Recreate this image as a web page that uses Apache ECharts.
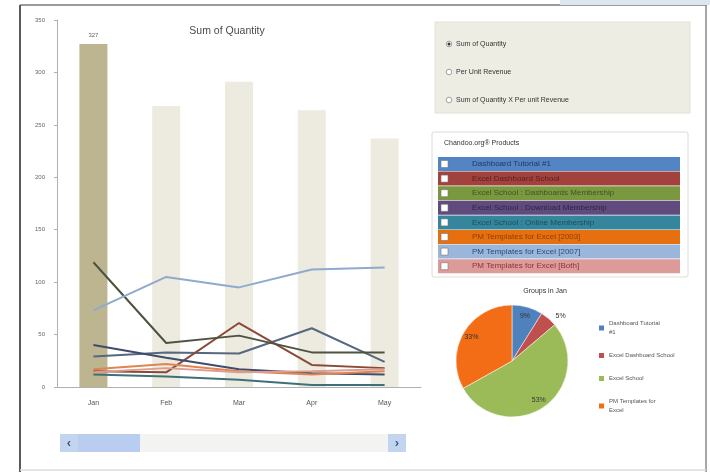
<!DOCTYPE html>
<html>
<head>
<meta charset="utf-8">
<script src="https://cdn.jsdelivr.net/npm/echarts@6/dist/echarts.min.js"></script>
<style>
html,body{margin:0;padding:0;background:#fff;}
#chart{width:710px;height:472px;}
</style>
</head>
<body>
<div id="chart"></div>
<script>
// ---- data ----
const months = ['Jan', 'Feb', 'Mar', 'Apr', 'May'];
const totalQuantity = [327, 268, 291, 264, 237];

const productNames = [
  'Dashboard Tutorial #1',
  'Excel Dashboard School',
  'Excel School : Dashboards Membership',
  'Excel School : Download Membership',
  'Excel School : Online Membership',
  'PM Templates for Excel [2003]',
  'PM Templates for Excel [2007]',
  'PM Templates for Excel [Both]'
];
const dashboardTutorial = [29, 33, 32, 56, 24];
const excelDashboardSchool = [15, 14, 61, 21, 18];
const esDashboardsMembership = [119, 42, 49, 33, 33];
const esDownloadMembership = [40, 28, 17, 13, 12];
const esOnlineMembership = [12, 10, 7, 2, 2];
const pmTemplates2003 = [17, 22, 15, 12, 15];
const pmTemplates2007 = [73, 105, 95, 112, 114];
const pmTemplatesBoth = [14, 18, 14, 15, 17];
const productValues = [dashboardTutorial, excelDashboardSchool, esDashboardsMembership,
  esDownloadMembership, esOnlineMembership, pmTemplates2003, pmTemplates2007, pmTemplatesBoth];

const pieNames = ['Dashboard Tutorial #1', 'Excel Dashboard School', 'Excel School', 'PM Templates for Excel'];
const pieValues = [29, 16, 173, 108];

const viewOptions = ['Sum of Quantity', 'Per Unit Revenue', 'Sum of Quantity X Per unit Revenue'];
const slicerTitle = 'Chandoo.org\u00AE Products';

// ---- styles ----
const lineColors = ['#56687f', '#8a4a38', '#4c533e', '#3f4c6c', '#3f7079', '#e08550', '#8eaacd', '#dc9d92'];
const rowFill = ['#5384c4', '#a2423c', '#7a983f', '#614b7e', '#35869d', '#e6700f', '#9ab6da', '#dc9a98'];
const rowText = ['#1f3864', '#5e1d1a', '#3f5220', '#2f2442', '#1b4e5c', '#8a4005', '#2a4a7a', '#8e3532'];
const pieColors = ['#4f81bd', '#c0504d', '#9bbb59', '#f36c16'];
const FONT = 'Liberation Sans';

const chart = echarts.init(document.getElementById('chart'));

const lineSeries = productNames.map((n, i) => ({
  name: n, type: 'line', data: productValues[i], symbol: 'none', z: 3,
  lineStyle: { color: lineColors[i], width: 2 }, itemStyle: { color: lineColors[i] }
}));

const graphics = [];
// frame
graphics.push({ type: 'rect', shape: { x: 560, y: 0, width: 150, height: 5 }, style: { fill: '#dbe6ef' }, z: 1 });
graphics.push({ type: 'line', shape: { x1: 20, y1: 5, x2: 707, y2: 5 }, style: { stroke: '#7a7a7a', lineWidth: 1.5 } });
graphics.push({ type: 'line', shape: { x1: 20, y1: 5, x2: 20, y2: 472 }, style: { stroke: '#5a5a5a', lineWidth: 2 } });
graphics.push({ type: 'line', shape: { x1: 706, y1: 5, x2: 706, y2: 472 }, style: { stroke: '#8a8a8a', lineWidth: 1.5 } });
graphics.push({ type: 'line', shape: { x1: 20, y1: 470, x2: 706, y2: 470 }, style: { stroke: '#dddddd', lineWidth: 1.5 } });

// radio box
graphics.push({ type: 'rect', shape: { x: 435, y: 22, width: 255, height: 91 }, style: { fill: '#eeede3', stroke: '#e2e1d7' } });
viewOptions.forEach((t, i) => {
  const y = 44 + i * 28;
  graphics.push({ type: 'circle', shape: { cx: 449, cy: y, r: 2.8 }, style: { fill: '#fff', stroke: '#8a8a8a', lineWidth: 0.8 } });
  if (i === 0) graphics.push({ type: 'circle', shape: { cx: 449, cy: y, r: 1.5 }, style: { fill: '#333' } });
  graphics.push({ type: 'text', x: 456, y: y, style: { text: t, fontSize: 7, fontFamily: FONT, fill: '#333', verticalAlign: 'middle' } });
});

// slicer
graphics.push({ type: 'rect', shape: { x: 432, y: 132, width: 256, height: 145, r: 2 }, style: { fill: '#fff', stroke: '#dcdcd4' } });
graphics.push({ type: 'text', x: 444, y: 143, style: { text: slicerTitle, fontSize: 7, fontFamily: FONT, fill: '#333', verticalAlign: 'middle' } });
productNames.forEach((n, i) => {
  const y = 157 + i * 14.6;
  graphics.push({ type: 'rect', shape: { x: 438, y: y, width: 242, height: 14 }, style: { fill: rowFill[i] } });
  graphics.push({ type: 'rect', shape: { x: 441, y: y + 3.5, width: 7, height: 7 }, style: { fill: '#fff', stroke: '#777', lineWidth: 0.6 } });
  graphics.push({ type: 'text', x: 472, y: y + 7, style: { text: n, fontSize: 8, fontFamily: FONT, fill: rowText[i], verticalAlign: 'middle' } });
});

// scrollbar
graphics.push({ type: 'rect', shape: { x: 60, y: 434, width: 346, height: 18 }, style: { fill: '#f3f3f1' } });
graphics.push({ type: 'rect', shape: { x: 60, y: 434, width: 18, height: 18 }, style: { fill: '#c3d4ef' } });
graphics.push({ type: 'rect', shape: { x: 78, y: 434, width: 62, height: 18 }, style: { fill: '#b8cdef' } });
graphics.push({ type: 'rect', shape: { x: 388, y: 434, width: 18, height: 18 }, style: { fill: '#c3d4ef' } });
graphics.push({ type: 'text', x: 69, y: 443, style: { text: '\u2039', fontSize: 13, fontWeight: 'bold', fontFamily: FONT, fill: '#3a5a90', align: 'center', verticalAlign: 'middle' } });
graphics.push({ type: 'text', x: 397, y: 443, style: { text: '\u203A', fontSize: 13, fontWeight: 'bold', fontFamily: FONT, fill: '#3a5a90', align: 'center', verticalAlign: 'middle' } });

const option = {
  backgroundColor: '#ffffff',
  animation: false,
  textStyle: { fontFamily: FONT },
  title: [
    { text: 'Sum of Quantity', left: 222, top: 21, textAlign: 'center',
      textStyle: { fontSize: 10.5, fontWeight: 'normal', color: '#4a4a4a', fontFamily: FONT } },
    { text: 'Groups in Jan', left: 540, top: 283, textAlign: 'center',
      textStyle: { fontSize: 7, fontWeight: 'normal', color: '#333', fontFamily: FONT } }
  ],
  grid: { left: 57, right: 289, top: 20, bottom: 85 },
  xAxis: {
    type: 'category', data: months, boundaryGap: true,
    axisLine: { lineStyle: { color: '#b0b0b0' } },
    axisTick: { show: false },
    axisLabel: { fontSize: 7, color: '#555', margin: 13 }
  },
  yAxis: {
    type: 'value', min: 0, max: 350, interval: 50,
    axisLine: { show: true, lineStyle: { color: '#b0b0b0' } },
    axisTick: { show: true, length: 3, lineStyle: { color: '#b0b0b0' } },
    splitLine: { show: false },
    axisLabel: { fontSize: 6, color: '#666', margin: 12 }
  },
  legend: {
    data: pieNames.map((n, i) => ({ name: n, itemStyle: { color: pieColors[i], borderWidth: 0 } })),
    orient: 'vertical', left: 594, top: 314,
    itemWidth: 5, itemHeight: 5, itemGap: 14, icon: 'rect',
    formatter: n => ({ 'Dashboard Tutorial #1': 'Dashboard Tutorial\n#1', 'PM Templates for Excel': 'PM Templates for\nExcel' }[n] || n),
    textStyle: { fontSize: 6, color: '#555', lineHeight: 9, fontFamily: FONT }
  },
  graphic: graphics,
  series: [
    {
      name: 'Sum of Quantity', type: 'bar', barWidth: 28, z: 2,
      data: totalQuantity.map((v, i) => i === 0
        ? { value: v, itemStyle: { color: '#bcb590' }, label: { show: true } }
        : { value: v, itemStyle: { color: '#edebe0' } }),
      label: { show: false, position: 'top', fontSize: 6, color: '#666', distance: 6 }
    },
    ...lineSeries,
    {
      name: 'Groups in Jan', type: 'pie', center: [512, 361], radius: 56, startAngle: 90,
      clockwise: true, percentPrecision: 0,
      data: pieNames.map((n, i) => ({
        name: n, value: pieValues[i], itemStyle: { color: pieColors[i] },
        label: i === 1 ? { show: true, position: 'outside' } : { show: false }
      })),
      label: { formatter: '{d}%', fontSize: 7, color: '#333' },
      labelLine: { show: false, length: 3, length2: 0 },
      itemStyle: { borderColor: '#fff', borderWidth: 0.5 }
    },
    {
      name: 'Groups in Jan labels', type: 'pie', center: [512, 361], radius: [0, 88], startAngle: 90,
      clockwise: true, percentPrecision: 0, silent: true, z: 5,
      data: pieNames.map((n, i) => ({
        name: n, value: pieValues[i],
        label: { show: i !== 1 }
      })),
      itemStyle: { color: 'rgba(0,0,0,0)', borderWidth: 0 },
      label: { position: 'inside', formatter: '{d}%', fontSize: 7, color: '#333' },
      labelLine: { show: false },
      emphasis: { disabled: true }
    }
  ]
};
chart.setOption(option);
</script>
</body>
</html>
